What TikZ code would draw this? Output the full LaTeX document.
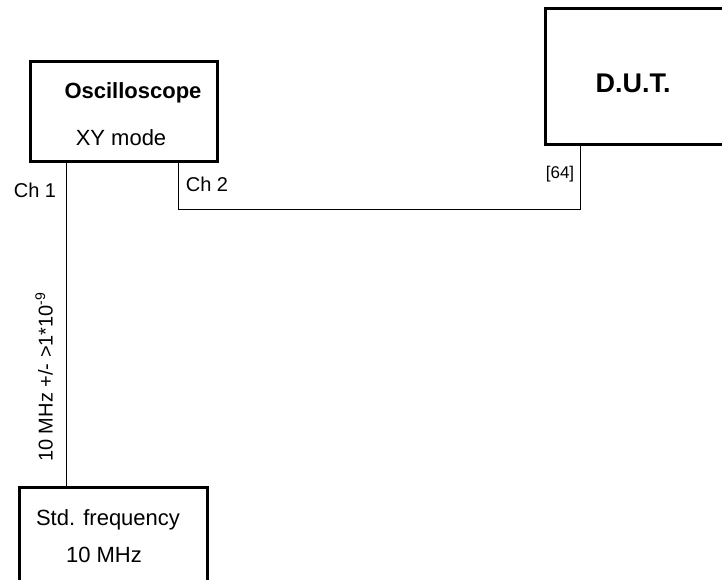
\documentclass[tikz,border=0pt]{standalone}
\usepackage{fontspec}
\setmainfont{Liberation Sans}
\begin{document}
\begin{tikzpicture}[x=1pt,y=-1pt,
  box/.style={draw,line width=3pt,inner sep=0pt},
  wire/.style={draw,line width=1pt},
  lbl/.style={inner sep=0pt,font=\fontsize{20}{22}\selectfont}]
\useasboundingbox (0,0) rectangle (722,580);
\clip (0,0) rectangle (722,580);
% boxes
\draw[box] (30,62) rectangle (217,162);
\coordinate (oscB1) at (66,162);
\coordinate (oscB2) at (178,162);
\draw[box] (545,9) rectangle (740,145);
\coordinate (dutB) at (580,145);
\draw[box] (19,487) rectangle (207,600);
\coordinate (stdT) at (66,487);
% texts
\node[lbl,font=\bfseries\fontsize{22}{24}\selectfont] (osc) at (133,93) {Oscilloscope};
\node[lbl,font=\fontsize{22}{24}\selectfont] (xy) at (121,138) {XY mode};
\node[lbl,font=\bfseries\fontsize{27}{29}\selectfont] (dut) at (633,83) {D.U.T.};
\node[lbl,font=\fontsize{22}{24}\selectfont] (std) at (108,520) {Std. frequency};
\node[lbl,font=\fontsize{22}{24}\selectfont] (ten) at (104,555) {10 MHz};
\node[lbl] (ch1) at (35,190) {Ch 1};
\node[lbl] (ch2) at (207,184) {Ch 2};
\node[lbl,font=\fontsize{17}{19}\selectfont] (p64) at (560,174) {[64]};
\node[lbl,rotate=90] (freq) at (44,377) {10 MHz +/- >1*10\textsuperscript{-9}};
% wires
\coordinate (c2a) at (178,209);
\coordinate (c2b) at (580,209);
\draw[wire] (oscB1) -- (stdT);
\draw[wire] (oscB2) -- (c2a) -- (c2b) -- (dutB);
\end{tikzpicture}
\end{document}
